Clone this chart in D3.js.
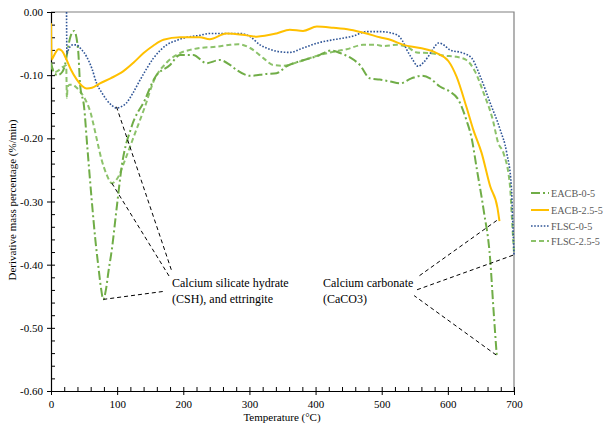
<!DOCTYPE html>
<html><head><meta charset="utf-8">
<script src="https://cdn.jsdelivr.net/npm/d3@7"></script>
<style>body{margin:0;background:#fff}svg{display:block}text{font-family:"Liberation Serif","Times New Roman",serif}</style>
</head><body>
<svg id="c" width="603" height="428"></svg>
<script>
// ---- data (temperature in °C, derivative mass %/min) ----
const eacb0T = [0,4,10,17,22,26,30,35,41,44,50,55,61.5,67,71.5,76,79,83,87,92,99,107,122,142,157,180,195,215,235,255,271,281,301,326,341,356,376,402,424,437,452,467,482,497,513,528,545,560,573,588,603,616,628,636,644,654,664,669,674];
const eacb0V = [-0.080,-0.095,-0.100,-0.095,-0.080,-0.055,-0.037,-0.030,-0.060,-0.115,-0.150,-0.215,-0.297,-0.360,-0.402,-0.440,-0.455,-0.440,-0.410,-0.376,-0.313,-0.244,-0.181,-0.139,-0.104,-0.084,-0.068,-0.068,-0.081,-0.076,-0.084,-0.092,-0.101,-0.098,-0.097,-0.086,-0.078,-0.070,-0.061,-0.065,-0.072,-0.084,-0.105,-0.107,-0.110,-0.113,-0.105,-0.101,-0.105,-0.118,-0.126,-0.139,-0.171,-0.200,-0.250,-0.313,-0.392,-0.471,-0.545];

const eacb25T = [0,1,3,7,11,16,22,30,39,47,54,62,74,90,109,125,140,155,170,195,225,240,265,296,311,341,361,381,402,427,452,477,497,513,533,558,583,601,613,628,638,651,664,675,678];
const eacb25V = [-0.018,-0.075,-0.072,-0.064,-0.059,-0.061,-0.072,-0.091,-0.107,-0.117,-0.121,-0.120,-0.113,-0.105,-0.094,-0.080,-0.065,-0.053,-0.044,-0.040,-0.040,-0.043,-0.034,-0.037,-0.039,-0.034,-0.028,-0.030,-0.023,-0.025,-0.028,-0.034,-0.040,-0.044,-0.052,-0.057,-0.065,-0.078,-0.102,-0.150,-0.185,-0.223,-0.276,-0.310,-0.331];

const flsc0T = [23.5,24,27,33,38,45,54,62,69,77,84,92,99,106,114,124,135,145,155,165,175,190,205,225,240,271,286,301,316,331,346,361,381,407,432,457,477,497,523,531,538,546,555,563,570,578,586,595,603,623,636,649,664,679,689,696,698,700];
const flsc0V = [0.000,-0.066,-0.058,-0.052,-0.052,-0.058,-0.071,-0.090,-0.113,-0.128,-0.139,-0.148,-0.152,-0.150,-0.144,-0.128,-0.107,-0.089,-0.073,-0.061,-0.052,-0.045,-0.040,-0.037,-0.034,-0.034,-0.034,-0.039,-0.052,-0.059,-0.063,-0.064,-0.057,-0.048,-0.043,-0.038,-0.031,-0.031,-0.036,-0.045,-0.060,-0.074,-0.086,-0.080,-0.071,-0.058,-0.049,-0.053,-0.060,-0.065,-0.073,-0.102,-0.144,-0.186,-0.223,-0.276,-0.329,-0.384];

const flsc25T = [0,6,12,18,23,24,25,28,32,38,44,50,56,60,64,70,76,84,92,100,112,127,142,155,175,195,210,225,250,271,283,301,321,336,351,371,397,422,447,472,492,502,523,538,553,573,593,613,628,641,654,668,676,684,694,697,700];
const flsc25V = [-0.085,-0.095,-0.092,-0.087,-0.085,-0.136,-0.120,-0.115,-0.115,-0.119,-0.126,-0.135,-0.148,-0.160,-0.177,-0.205,-0.232,-0.257,-0.271,-0.264,-0.234,-0.192,-0.150,-0.110,-0.080,-0.065,-0.060,-0.057,-0.055,-0.052,-0.051,-0.057,-0.073,-0.084,-0.085,-0.080,-0.071,-0.064,-0.059,-0.052,-0.052,-0.054,-0.052,-0.055,-0.064,-0.065,-0.069,-0.071,-0.076,-0.094,-0.128,-0.171,-0.207,-0.223,-0.276,-0.329,-0.381];

const seriesNames = ["EACB-0-5","EACB-2.5-5","FLSC-0-5","FLSC-2.5-5"];
const xTickLabels = [0,100,200,300,400,500,600,700];
const yTickLabels = [0,-0.1,-0.2,-0.3,-0.4,-0.5,-0.6];

// annotation leaders: from a curve feature (T, V) to near the label (T, V)
const leaderFromT = [99, 92, 79, 674, 698.5, 673];
const leaderFromV = [-0.150, -0.271, -0.455, -0.330, -0.385, -0.543];
const leaderToT   = [182.5, 178.5, 172.5, 555, 550, 549];
const leaderToV   = [-0.410, -0.418, -0.442, -0.419, -0.441, -0.449];
const annotLines = [["Calcium silicate hydrate","(CSH), and ettringite"],["Calcium carbonate","(CaCO3)"]];

// ---- drawing ----
const svg = d3.select("#c");
const L=51, R=514, T=12, B=391;
const x = d3.scaleLinear().domain([0,700]).range([L,R]);
const y = d3.scaleLinear().domain([-0.6,0]).range([B,T]);

const styles = [
  {name:seriesNames[0], t:eacb0T, v:eacb0V, color:"#70AD47", w:2, dash:"9,3,2,3"},
  {name:seriesNames[1], t:eacb25T, v:eacb25V, color:"#FFC000", w:2, dash:null},
  {name:seriesNames[2], t:flsc0T, v:flsc0V, color:"#2F5597", w:1.6, dash:"1.6,1.6"},
  {name:seriesNames[3], t:flsc25T, v:flsc25V, color:"#8CC26A", w:2, dash:"5,3"}
];

// frame (top & right)
svg.append("path").attr("d",`M${L},${T}H${R}V${B}`).attr("fill","none").attr("stroke","#808080").attr("stroke-width",1.2);

// minor ticks
const xMinor = d3.range(0,701,20);
const yMinor = d3.range(0,31).map(i=>-i*0.02);
svg.append("g").attr("transform",`translate(0,${B})`)
  .call(d3.axisBottom(x).tickValues(xMinor).tickSize(-4).tickSizeOuter(0).tickFormat(""))
  .call(g=>g.select(".domain").remove());
svg.append("g").attr("transform",`translate(${L},0)`)
  .call(d3.axisLeft(y).tickValues(yMinor).tickSize(-4).tickSizeOuter(0).tickFormat(""))
  .call(g=>g.select(".domain").remove());

// major axes
const gx = svg.append("g").attr("transform",`translate(0,${B})`)
  .call(d3.axisBottom(x).tickValues(xTickLabels).tickSize(4).tickSizeOuter(0).tickPadding(5).tickFormat(d=>String(d)));
const gy = svg.append("g").attr("transform",`translate(${L},0)`)
  .call(d3.axisLeft(y).tickValues(yTickLabels).tickSize(4).tickSizeOuter(0).tickPadding(4).tickFormat(d=>d.toFixed(2)));
[gx,gy].forEach(g=>{
  g.selectAll("text").attr("font-family","Liberation Serif").attr("font-size",11).attr("fill","#000");
  g.select(".domain").attr("stroke","#000").attr("stroke-width",1.2);
});

// axis titles
svg.append("text").attr("x",282).attr("y",421).attr("text-anchor","middle").attr("font-size",11).text("Temperature (°C)");
svg.append("text").attr("transform","translate(16,200) rotate(-90)").attr("text-anchor","middle").attr("font-size",11).text("Derivative mass percentage (%/min)");

// series
const line = d3.line().x(d=>x(d[0])).y(d=>y(d[1])).curve(d3.curveMonotoneX);
svg.append("clipPath").attr("id","pc").append("rect").attr("x",L).attr("y",T-1).attr("width",R-L+1).attr("height",B-T+1);
const draw = svg.append("g").attr("clip-path","url(#pc)");
[styles[3],styles[0],styles[2],styles[1]].forEach(s=>{
  const pts = s.t.map((t,i)=>[t,s.v[i]]);
  draw.append("path").attr("d",line(pts)).attr("fill","none").attr("stroke",s.color)
    .attr("stroke-width",s.w).attr("stroke-dasharray",s.dash).attr("stroke-linejoin","round");
});

// leader lines
leaderFromT.forEach((t,i)=>{
  svg.append("line").attr("x1",x(t)).attr("y1",y(leaderFromV[i])).attr("x2",x(leaderToT[i])).attr("y2",y(leaderToV[i]))
    .attr("stroke","#000").attr("stroke-width",1).attr("stroke-dasharray","4,3");
});

// annotations
const annX = [172, 323];
annotLines.forEach((lines,k)=>{
  lines.forEach((s,j)=>{
    svg.append("text").attr("x",annX[k]).attr("y",287+j*15.5).attr("font-size",12).attr("fill","#000").text(s);
  });
});

// legend
const legY = [193,210,226,241];
styles.forEach((s,i)=>{
  svg.append("line").attr("x1",531).attr("x2",549).attr("y1",legY[i]).attr("y2",legY[i])
    .attr("stroke",s.color).attr("stroke-width",s.w).attr("stroke-dasharray",s.dash);
  svg.append("text").attr("x",551).attr("y",legY[i]+4).attr("font-size",10.2).attr("fill","#595959").text(s.name);
});
</script>
</body></html>
